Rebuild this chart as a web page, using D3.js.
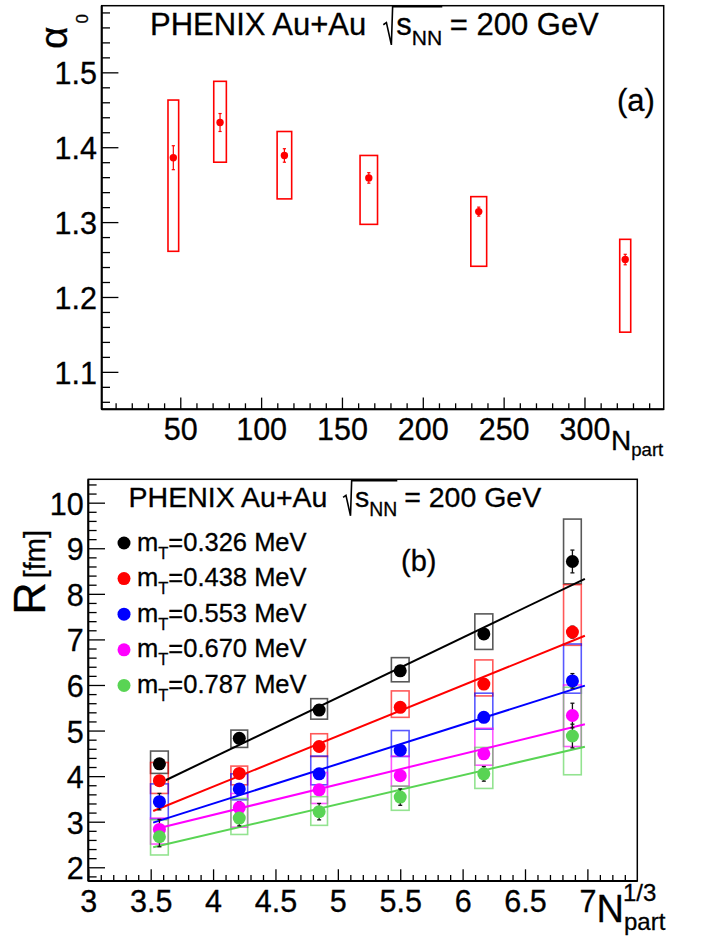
<!DOCTYPE html>
<html><head><meta charset="utf-8">
<script src="https://cdn.jsdelivr.net/npm/d3@7"></script>
<style>
body{margin:0;background:#fff}
text{font-family:"Liberation Sans",Arial,Helvetica,sans-serif;fill:#000;stroke:#000;stroke-width:0.3px}
</style></head><body>
<svg id="c" width="705" height="938"></svg>
<script>
// ---------- DATA: panel (a) ----------
const npart       = [45.7, 74.6, 114.4, 166.6, 234.6, 325.2];
const npartHalfW  = [3.3, 3.9, 4.5, 5.4, 4.9, 3.4];
const alpha0      = [1.386, 1.433, 1.389, 1.359, 1.314, 1.250];
const alpha0Stat  = [0.016, 0.012, 0.009, 0.007, 0.006, 0.007];
const alpha0SysHi = [1.463, 1.488, 1.421, 1.389, 1.334, 1.277];
const alpha0SysLo = [1.261, 1.380, 1.331, 1.297, 1.241, 1.153];
const aXTicks = [50, 100, 150, 200, 250, 300];
const aXTickLabels = ["50", "100", "150", "200", "250", "300"];
const aYTicks = [1.1, 1.2, 1.3, 1.4, 1.5];
const aYTickLabels = ["1.1", "1.2", "1.3", "1.4", "1.5"];

// ---------- DATA: panel (b) ----------
const npartCube = [3.57, 4.21, 4.85, 5.50, 6.17, 6.88];
const cubeHalfW = [0.071, 0.067, 0.067, 0.071, 0.072, 0.071];
const mTLabels  = ["0.326", "0.438", "0.553", "0.670", "0.787"];
const seriesColors = ["#000000", "#ff0000", "#0000ff", "#ff00ff", "#59d454"];
const R_326 = [4.27, 4.83, 5.45, 6.31, 7.12, 8.71];
const R_438 = [3.90, 4.06, 4.65, 5.51, 6.02, 7.16];
const R_553 = [3.44, 3.72, 4.05, 4.57, 5.29, 6.09];
const R_670 = [2.83, 3.31, 3.70, 4.01, 4.49, 5.33];
const R_787 = [2.67, 3.08, 3.22, 3.54, 4.05, 4.88];
const Rstat_326 = [0.10, 0.06, 0.06, 0.06, 0.06, 0.25];
const Rstat_438 = [0.08, 0.06, 0.06, 0.06, 0.07, 0.13];
const Rstat_553 = [0.18, 0.08, 0.10, 0.08, 0.10, 0.16];
const Rstat_670 = [0.22, 0.13, 0.10, 0.08, 0.10, 0.27];
const Rstat_787 = [0.22, 0.17, 0.18, 0.18, 0.16, 0.26];
const RsysHi_326 = [4.55, 5.01, 5.70, 6.60, 7.56, 9.64];
const RsysLo_326 = [4.06, 4.63, 5.25, 6.07, 6.78, 8.22];
const RsysHi_438 = [4.30, 4.22, 4.93, 5.87, 6.55, 8.20];
const RsysLo_438 = [3.62, 3.81, 4.43, 5.29, 5.76, 6.87];
const RsysHi_553 = [3.83, 4.05, 4.44, 5.00, 5.82, 6.90];
const RsysLo_553 = [3.06, 3.48, 3.81, 4.43, 5.03, 5.82];
const RsysHi_670 = [3.08, 3.62, 4.08, 4.44, 5.05, 6.00];
const RsysLo_670 = [2.51, 2.88, 3.40, 3.78, 4.24, 4.65];
const RsysHi_787 = [3.04, 3.51, 3.55, 3.78, 4.63, 5.95];
const RsysLo_787 = [2.27, 2.72, 2.92, 3.25, 3.73, 4.03];
const fitX0 = [3.62, 3.52, 3.52, 3.52, 3.52];
const fitX1 = [6.98, 6.98, 6.98, 6.98, 6.98];
const fitY0 = [3.91, 3.235, 2.98, 2.83, 2.44];
const fitY1 = [8.33, 7.08, 5.985, 5.14, 4.645];
const bXTicks = [3, 3.5, 4, 4.5, 5, 5.5, 6, 6.5, 7];
const bXTickLabels = ["3", "3.5", "4", "4.5", "5", "5.5", "6", "6.5", "7"];
const bYTicks = [2, 3, 4, 5, 6, 7, 8, 9, 10];
const bYTickLabels = ["2", "3", "4", "5", "6", "7", "8", "9", "10"];

const series = [
  {mT: mTLabels[0], color: seriesColors[0], R: R_326, stat: Rstat_326, hi: RsysHi_326, lo: RsysLo_326},
  {mT: mTLabels[1], color: seriesColors[1], R: R_438, stat: Rstat_438, hi: RsysHi_438, lo: RsysLo_438},
  {mT: mTLabels[2], color: seriesColors[2], R: R_553, stat: Rstat_553, hi: RsysHi_553, lo: RsysLo_553},
  {mT: mTLabels[3], color: seriesColors[3], R: R_670, stat: Rstat_670, hi: RsysHi_670, lo: RsysLo_670},
  {mT: mTLabels[4], color: seriesColors[4], R: R_787, stat: Rstat_787, hi: RsysHi_787, lo: RsysLo_787}
];
series.forEach((s, i) => { s.fx0 = fitX0[i]; s.fx1 = fitX1[i]; s.fy0 = fitY0[i]; s.fy1 = fitY1[i]; });

// ---------- DRAWING ----------
const svg = d3.select("#c");
svg.append("rect").attr("width", 705).attr("height", 938).attr("fill", "#fff");

function drawAxes(g, xs, ys, box, xMaj, xLab, xMin, yMaj, yLab, yMin) {
  const styleAx = sel => {
    sel.select(".domain").remove();
    sel.selectAll("line").attr("stroke", "#000").attr("stroke-width", 1.3);
    sel.selectAll("text").style("font-size", "30.5px").attr("fill", "#000");
  };
  g.append("g").attr("transform", `translate(0,${box.b})`)
    .call(d3.axisBottom(xs).tickValues(xMin).tickSizeInner(-6).tickSizeOuter(0).tickFormat(""))
    .call(styleAx);
  g.append("g").attr("transform", `translate(0,${box.b})`)
    .call(d3.axisBottom(xs).tickValues(xMaj).tickSizeInner(-11.7).tickSizeOuter(0).tickPadding(9.2)
      .tickFormat((d, i) => xLab[i]))
    .call(styleAx);
  g.append("g").attr("transform", `translate(${box.l},0)`)
    .call(d3.axisLeft(ys).tickValues(yMin).tickSizeInner(-8.3).tickSizeOuter(0).tickFormat(""))
    .call(styleAx);
  g.append("g").attr("transform", `translate(${box.l},0)`)
    .call(d3.axisLeft(ys).tickValues(yMaj).tickSizeInner(-16.7).tickSizeOuter(0).tickPadding(4.7)
      .tickFormat((d, i) => yLab[i]))
    .call(styleAx)
    .call(s => s.selectAll("text").attr("dy", "0.38em"));
  g.append("rect").attr("x", box.l).attr("y", box.t).attr("width", box.r - box.l).attr("height", box.b - box.t)
    .attr("fill", "none").attr("stroke", "#000").attr("stroke-width", 1.5);
  g.append("line").attr("x1", box.l).attr("x2", box.r).attr("y1", box.b).attr("y2", box.b).attr("stroke", "#000").attr("stroke-width", 2);
  g.append("line").attr("x1", box.l).attr("x2", box.l).attr("y1", box.t).attr("y2", box.b).attr("stroke", "#000").attr("stroke-width", 2);
}

function drawTitle(g, x, base, fs) {
  const t1 = g.append("text").attr("x", x).attr("y", base).style("font-size", fs + "px").text("PHENIX Au+Au");
  const w1 = t1.node().getComputedTextLength();
  const sx = x + w1 + 0.55 * fs;
  const sT = g.append("text").attr("x", sx + 0.42 * fs).attr("y", base).style("font-size", fs + "px").text("s");
  const ws = sT.node().getComputedTextLength();
  const nn = g.append("text").attr("x", sx + 0.42 * fs + ws).attr("y", base + 0.32 * fs)
    .style("font-size", (0.68 * fs) + "px").text("NN");
  const wn = nn.node().getComputedTextLength();
  const end = sx + 0.42 * fs + ws + wn;
  const top = base - 0.91 * fs, bot = base + 0.32 * fs;
  g.append("path")
    .attr("d", `M${sx},${base - 0.33 * fs} L${sx + 0.1 * fs},${base - 0.4 * fs} L${sx + 0.26 * fs},${bot} L${sx + 0.3 * fs},${top} L${end},${top}`)
    .attr("fill", "none").attr("stroke", "#000").attr("stroke-width", 1.6);
  g.append("text").attr("x", end + 0.24 * fs).attr("y", base).style("font-size", fs + "px").text("= 200 GeV");
}

// ===== Panel (a) =====
const A = {l: 101.7, r: 663.7, t: 5.7, b: 409.3};
const xA = d3.scaleLinear().domain([1.4, 349]).range([A.l, A.r]);
const yA = d3.scaleLinear().domain([1.05, 1.589]).range([A.b, A.t]);
const gA = svg.append("g");
drawAxes(gA, xA, yA, A, aXTicks, aXTickLabels,
  d3.range(1, 35).map(i => i * 10).filter(v => v % 50 !== 0),
  aYTicks, aYTickLabels,
  d3.range(53, 80).filter(i => i % 5 !== 0).map(i => i * 0.02));

const ptsA = npart.map((n, i) => ({n, hw: npartHalfW[i], v: alpha0[i], e: alpha0Stat[i], hi: alpha0SysHi[i], lo: alpha0SysLo[i]}));
gA.append("g").selectAll("rect").data(ptsA).join("rect")
  .attr("x", d => xA(d.n - d.hw)).attr("width", d => xA(d.n + d.hw) - xA(d.n - d.hw))
  .attr("y", d => yA(d.hi)).attr("height", d => yA(d.lo) - yA(d.hi))
  .attr("fill", "none").attr("stroke", "#ff0000").attr("stroke-width", 1.6);
const ebA = gA.append("g").attr("stroke", "#ff0000").attr("stroke-width", 1.2);
ebA.selectAll("line.v").data(ptsA).join("line").attr("class", "v")
  .attr("x1", d => xA(d.n)).attr("x2", d => xA(d.n)).attr("y1", d => yA(d.v - d.e)).attr("y2", d => yA(d.v + d.e));
ebA.selectAll("line.c1").data(ptsA).join("line").attr("class", "c1")
  .attr("x1", d => xA(d.n) - 1.6).attr("x2", d => xA(d.n) + 1.6).attr("y1", d => yA(d.v + d.e)).attr("y2", d => yA(d.v + d.e));
ebA.selectAll("line.c2").data(ptsA).join("line").attr("class", "c2")
  .attr("x1", d => xA(d.n) - 1.6).attr("x2", d => xA(d.n) + 1.6).attr("y1", d => yA(d.v - d.e)).attr("y2", d => yA(d.v - d.e));
gA.append("g").selectAll("circle").data(ptsA).join("circle")
  .attr("cx", d => xA(d.n)).attr("cy", d => yA(d.v)).attr("r", 3.7).attr("fill", "#ff0000");

drawTitle(gA, 150, 35, 31);
gA.append("text").attr("x", 617).attr("y", 110.5).style("font-size", "31px").text("(a)");
// axis titles
const nA = gA.append("text").attr("x", 611).attr("y", 450).style("font-size", "28px");
nA.append("tspan").text("N");
nA.append("tspan").style("font-size", "18.6px").attr("dy", 5.6).text("part");
const alA = gA.append("text").attr("transform", "translate(67,49) rotate(-90)").style("font-size", "39px");
alA.append("tspan").text("α");
alA.append("tspan").style("font-size", "17px").attr("dx", 3).attr("dy", 21).text("0");

// ===== Panel (b) =====
const B = {l: 88.3, r: 637.3, t: 479.3, b: 881};
const xB = d3.scaleLinear().domain([3, 7.4]).range([B.l, B.r]);
const yB = d3.scaleLinear().domain([1.699, 10.513]).range([B.b, B.t]);
const gB = svg.append("g");
drawAxes(gB, xB, yB, B, bXTicks, bXTickLabels,
  d3.range(31, 74).filter(i => i % 5 !== 0).map(i => i / 10),
  bYTicks, bYTickLabels,
  d3.range(9, 53).filter(i => i % 5 !== 0).map(i => i * 0.2));

series.forEach(s => {
  const pts = npartCube.map((x, i) => ({x, hw: cubeHalfW[i], hi: s.hi[i], lo: s.lo[i]}));
  gB.append("g").selectAll("rect").data(pts).join("rect")
    .attr("x", d => xB(d.x - d.hw)).attr("width", d => xB(d.x + d.hw) - xB(d.x - d.hw))
    .attr("y", d => yB(d.hi)).attr("height", d => yB(d.lo) - yB(d.hi))
    .attr("fill", "none").attr("stroke", s.color).attr("stroke-opacity", 0.65).attr("stroke-width", 1.6);
});
gB.append("g").selectAll("line").data(series).join("line")
  .attr("x1", d => xB(d.fx0)).attr("y1", d => yB(d.fy0)).attr("x2", d => xB(d.fx1)).attr("y2", d => yB(d.fy1))
  .attr("stroke", d => d.color).attr("stroke-width", 2);
series.forEach(s => {
  const pts = npartCube.map((x, i) => ({x, v: s.R[i], e: s.stat[i]}));
  const eb = gB.append("g").attr("stroke", "#111").attr("stroke-width", 1.3);
  eb.selectAll("line.v").data(pts).join("line").attr("class", "v")
    .attr("x1", d => xB(d.x)).attr("x2", d => xB(d.x)).attr("y1", d => yB(d.v - d.e)).attr("y2", d => yB(d.v + d.e));
  eb.selectAll("line.c1").data(pts).join("line").attr("class", "c1")
    .attr("x1", d => xB(d.x) - 2).attr("x2", d => xB(d.x) + 2).attr("y1", d => yB(d.v + d.e)).attr("y2", d => yB(d.v + d.e));
  eb.selectAll("line.c2").data(pts).join("line").attr("class", "c2")
    .attr("x1", d => xB(d.x) - 2).attr("x2", d => xB(d.x) + 2).attr("y1", d => yB(d.v - d.e)).attr("y2", d => yB(d.v - d.e));
});
series.forEach(s => {
  const pts = npartCube.map((x, i) => ({x, v: s.R[i]}));
  gB.append("g").selectAll("circle").data(pts).join("circle")
    .attr("cx", d => xB(d.x)).attr("cy", d => yB(d.v)).attr("r", 6.5).attr("fill", s.color);
});

drawTitle(gB, 128.6, 506.7, 28.5);
gB.append("text").attr("x", 401).attr("y", 570.6).style("font-size", "29px").text("(b)");

const leg = gB.append("g");
series.forEach((s, i) => {
  const y = 543 + 35.6 * i;
  leg.append("circle").attr("cx", 124).attr("cy", y).attr("r", 6.5).attr("fill", s.color);
  const t = leg.append("text").attr("x", 137).attr("y", y + 7.5).style("font-size", "25.5px");
  t.append("tspan").text("m");
  t.append("tspan").style("font-size", "16.5px").attr("dy", 8).text("T");
  t.append("tspan").attr("dy", -8).text("=" + s.mT + " MeV");
});

// axis titles panel (b)
const nB = gB.append("text").attr("x", 596.5).attr("y", 921.7).style("font-size", "38px").text("N");
const nEnd = 596.5 + nB.node().getComputedTextLength();
gB.append("text").attr("x", nEnd - 1).attr("y", 900.5).style("font-size", "24px").text("1/3");
gB.append("text").attr("x", nEnd).attr("y", 929.5).style("font-size", "24px").text("part");
const yTitB = gB.append("text").attr("transform", "translate(45,530) rotate(-90)").attr("text-anchor", "end");
yTitB.append("tspan").style("font-size", "45px").text("R");
yTitB.append("tspan").style("font-size", "29px").attr("dx", 4).text("[fm]");
</script>
</body></html>
